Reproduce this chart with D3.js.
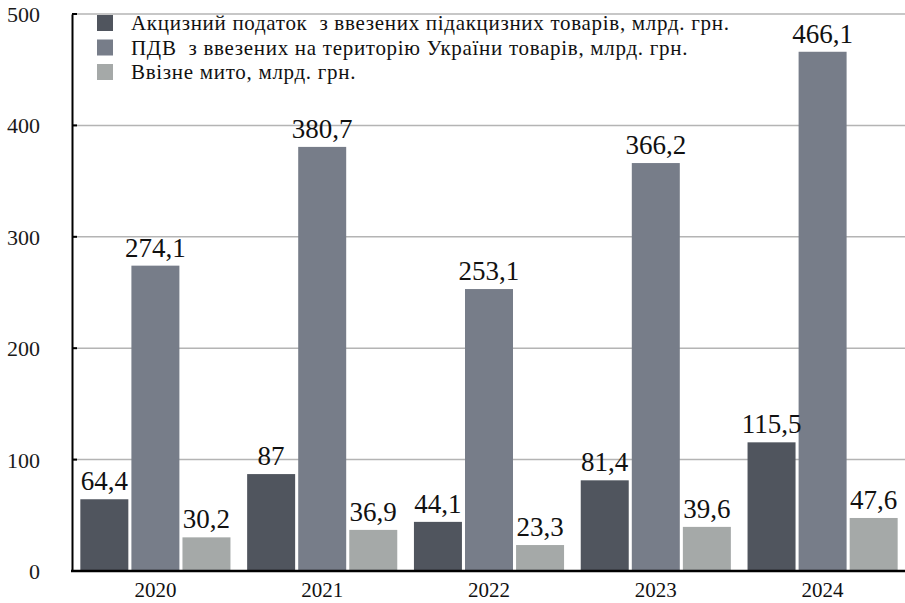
<!DOCTYPE html>
<html>
<head>
<meta charset="utf-8">
<script src="https://cdn.jsdelivr.net/npm/d3@7"></script>
</head>
<body style="margin:0;background:#fff">
<svg id="chart" width="905" height="603"></svg>
<script>
const years = ["2020", "2021", "2022", "2023", "2024"];
const seriesNames = [
	"Акцизний податок  з ввезених підакцизних товарів, млрд. грн.",
	"ПДВ  з ввезених на територію України товарів, млрд. грн.",
	"Ввізне мито, млрд. грн."
];
const excise = [64.4, 87, 44.1, 81.4, 115.5];
const vat = [274.1, 380.7, 253.1, 366.2, 466.1];
const duty = [30.2, 36.9, 23.3, 39.6, 47.6];
const yTicks = [0, 100, 200, 300, 400, 500];

const colors = ["#50555e", "#777d89", "#a5a9a8"];
const series = [excise, vat, duty];
const serif = "Liberation Serif";

const svg = d3.select("#chart");
const plotLeft = 72, plotRight = 906, plotTop = 14, plotBottom = 571;

const x0 = d3.scaleBand().domain(years).range([plotLeft, plotRight]).paddingInner(0.1).paddingOuter(0.05);
const x1 = d3.scaleBand().domain(d3.range(series.length)).range([0, x0.bandwidth()]).paddingInner(0.06);
const y = d3.scaleLinear().domain([0, 500]).range([plotBottom, plotTop]);

// gridlines
svg.append("g")
	.selectAll("line").data(yTicks.slice(1)).join("line")
	.attr("x1", plotLeft).attr("x2", 905)
	.attr("y1", d => y(d)).attr("y2", d => y(d))
	.attr("stroke", "#b4b4b4").attr("stroke-width", 1.5);

// bars
const groups = svg.append("g").selectAll("g").data(years).join("g")
	.attr("transform", d => `translate(${x0(d)},0)`);

groups.selectAll("rect")
	.data((yr, i) => series.map((s, k) => ({k: k, v: s[i]})))
	.join("rect")
	.attr("x", d => x1(d.k))
	.attr("width", x1.bandwidth())
	.attr("y", d => y(d.v))
	.attr("height", d => y(0) - y(d.v))
	.attr("fill", d => colors[d.k]);

groups.selectAll("text.val")
	.data((yr, i) => series.map((s, k) => ({k: k, v: s[i]})))
	.join("text").attr("class", "val")
	.attr("x", d => x1(d.k) + x1.bandwidth() / 2)
	.attr("y", d => y(d.v) - 9)
	.attr("text-anchor", "middle")
	.attr("font-family", serif)
	.attr("font-size", 27)
	.attr("fill", "#111")
	.text(d => String(d.v).replace(".", ","));

// y axis
const yAxis = svg.append("g")
	.attr("transform", `translate(${plotLeft},0)`)
	.call(d3.axisLeft(y).tickValues(yTicks).tickSize(0).tickPadding(32).tickFormat(d3.format("d")));
yAxis.select(".domain").attr("stroke", "#000").attr("stroke-width", 2);
yAxis.selectAll("text")
	.attr("font-size", 22).attr("fill", "#1a1a1a")
	.attr("font-family", serif).attr("dy", "0.34em");
svg.append("g").selectAll("line").data(yTicks.slice(1)).join("line")
	.attr("x1", plotLeft).attr("x2", plotLeft + 5)
	.attr("y1", d => y(d)).attr("y2", d => y(d))
	.attr("stroke", "#000").attr("stroke-width", 2);

// x axis
const xAxis = svg.append("g")
	.attr("transform", `translate(0,${plotBottom})`)
	.call(d3.axisBottom(x0).tickSize(0).tickPadding(11));
xAxis.select(".domain").attr("d", `M${plotLeft - 1},0H905`).attr("stroke", "#000").attr("stroke-width", 2.5);
xAxis.selectAll("text").attr("font-size", 21).attr("font-family", serif).attr("fill", "#111");

// legend
const legend = svg.append("g").selectAll("g").data(seriesNames).join("g")
	.attr("transform", (d, i) => `translate(97,${15 + i * 24.5})`);
legend.append("rect").attr("width", 16).attr("height", 16).attr("fill", (d, i) => colors[i]);
legend.append("text").attr("x", 34).attr("y", 15)
	.attr("font-family", serif).attr("font-size", 21).attr("fill", "#111")
	.attr("letter-spacing", 0.7)
	.style("white-space", "pre")
	.text(d => d);
</script>
</body>
</html>
